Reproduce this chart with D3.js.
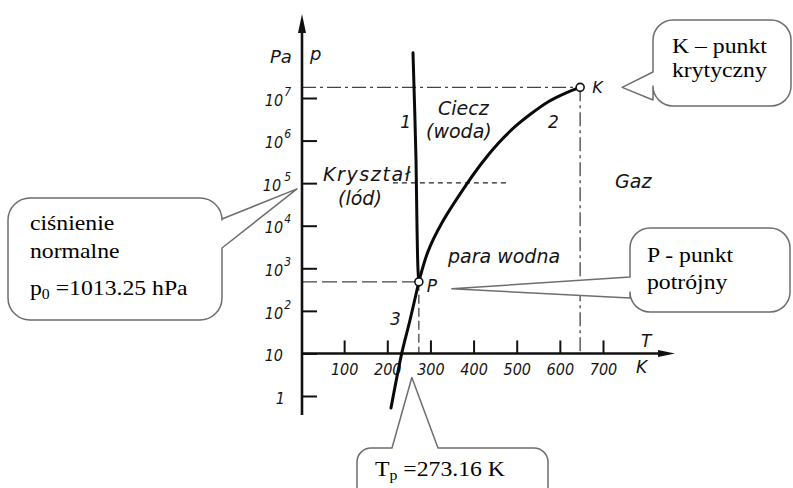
<!DOCTYPE html>
<html>
<head>
<meta charset="utf-8">
<script src="https://cdn.jsdelivr.net/npm/d3@7"></script>
<style>
  html, body { margin: 0; padding: 0; background: #fff; }
  svg { display: block; }
  .tech { font-family: "DejaVu Sans", sans-serif; font-style: oblique; fill: #151515; }
  .tick-label { font-stretch: condensed; }
  .note { font-family: "Liberation Serif", "Times New Roman", serif; fill: #000; }
</style>
</head>
<body>
<svg id="chart" width="793" height="488"></svg>
<script>
// Temperature ticks (K)
const tempTicks = [100, 200, 300, 400, 500, 600, 700];
// Pressure ticks (Pa), one per decade
const pressureTicks = [1, 10, 1e2, 1e3, 1e4, 1e5, 1e6, 1e7];
// Triple point P and critical point K: [T (K), p (Pa)]
const triplePoint = [273.16, 480];
const criticalPoint = [647, 1.78e7];
// Normal pressure p0 = 1013.25 hPa and the temperature span of its marker line
const normalPressure = 101325;
const normalLineT = [213, 477];
// Curve 1: melting (ice / water)
const meltingCurve = [[273.16, 480], [271.2, 912], [268.9, 9300], [266.6, 3.5e5], [259.6, 1.15e8]];
// Curve 2: vaporisation (water / vapour), ends at the critical point
const vaporCurve = [[273.16, 480], [294.5, 2500], [326.1, 11400], [380.1, 82600],
  [418.8, 2.93e5], [457.3, 8.63e5], [496.0, 2.12e6], [534.7, 4.38e6], [573.2, 8.19e6],
  [611.9, 1.29e7], [647, 1.78e7]];
// Curve 3: sublimation (ice / vapour)
const sublimationCurve = [[273.16, 480], [252.7, 61], [234.1, 10.7], [208.6, 0.52]];

const svg = d3.select("#chart");
svg.append("rect").attr("width", 793).attr("height", 488).attr("fill", "#fff");

const x = d3.scaleLinear().domain([0, 700]).range([301, 603]);
const y = d3.scaleLog().domain([1, 1e7]).range([396, 98]);

const X0 = x(0) + 1;          // vertical axis position
const Y0 = y(10);             // horizontal axis position

// ---------- helper lines (dashed) ----------
const guides = svg.append("g").attr("fill", "none");
const [tp, pp] = triplePoint;
const [tk, pk] = criticalPoint;
guides.append("line")
  .attr("x1", X0).attr("x2", x(tk)).attr("y1", y(pk)).attr("y2", y(pk))
  .attr("stroke", "#444").attr("stroke-width", 1.3).attr("stroke-dasharray", "14,4,3,4");
guides.append("line")
  .attr("x1", x(tk)).attr("x2", x(tk)).attr("y1", y(pk)).attr("y2", Y0)
  .attr("stroke", "#444").attr("stroke-width", 1.3).attr("stroke-dasharray", "14,4,3,4");
guides.append("line")
  .attr("x1", X0).attr("x2", x(tp)).attr("y1", y(pp)).attr("y2", y(pp))
  .attr("stroke", "#444").attr("stroke-width", 1.4).attr("stroke-dasharray", "15,5");
guides.append("line")
  .attr("x1", x(tp)).attr("x2", x(tp)).attr("y1", y(pp)).attr("y2", Y0)
  .attr("stroke", "#444").attr("stroke-width", 1.3).attr("stroke-dasharray", "9,4");
guides.append("line")
  .attr("x1", x(normalLineT[0])).attr("x2", x(normalLineT[1]))
  .attr("y1", y(normalPressure)).attr("y2", y(normalPressure))
  .attr("stroke", "#222").attr("stroke-width", 1.1).attr("stroke-dasharray", "5,4");

// ---------- axes ----------
const yAxis = d3.axisLeft(y).tickValues(pressureTicks).tickSizeInner(-15).tickSizeOuter(0).tickPadding(19)
  .tickFormat(() => "");
const gy = svg.append("g").attr("transform", `translate(${X0},0)`).call(yAxis);
gy.select(".domain").remove();
gy.selectAll(".tick line").attr("stroke", "#111").attr("stroke-width", 2);
gy.selectAll(".tick text").each(function (d) {
  const e = Math.round(Math.log10(d));
  const t = d3.select(this).attr("class", "tech tick-label").attr("font-size", 16).attr("dy", "0.45em")
    .attr("font-family", null);
  if (e === 0) { t.attr("x", -17).text("1"); }
  else if (e === 1) { t.attr("x", -19).text("10"); }
  else {
    t.attr("x", -11);
    t.append("tspan").text("10");
    t.append("tspan").attr("font-size", 12).attr("dy", -10).attr("dx", e === 5 ? 3 : 1).text(e);
  }
});

const xAxis = d3.axisBottom(x).tickValues(tempTicks).tickSizeInner(-13).tickSizeOuter(0).tickPadding(10.5);
const gx = svg.append("g").attr("transform", `translate(0,${Y0})`).call(xAxis);
gx.select(".domain").remove();
gx.selectAll(".tick line").attr("stroke", "#111").attr("stroke-width", 2);
gx.selectAll(".tick text").attr("class", "tech tick-label").attr("font-size", 16).attr("font-family", null);

// axis lines with arrow heads
svg.append("line").attr("x1", X0).attr("x2", X0).attr("y1", 415).attr("y2", 28)
  .attr("stroke", "#111").attr("stroke-width", 2.6);
svg.append("path").attr("d", `M${X0},14 L${X0 - 4},33 L${X0 + 4},33 Z`).attr("fill", "#111");
svg.append("line").attr("x1", X0).attr("x2", 664).attr("y1", Y0).attr("y2", Y0)
  .attr("stroke", "#111").attr("stroke-width", 2.6);
svg.append("path").attr("d", `M675,${Y0} L658,${Y0 - 3.5} L658,${Y0 + 3.5} Z`).attr("fill", "#111");

// ---------- phase boundaries ----------
const line = d3.line().x(d => x(d[0])).y(d => y(d[1])).curve(d3.curveCatmullRom.alpha(0.5));
const curves = svg.append("g").attr("fill", "none").attr("stroke", "#0a0a0a")
  .attr("stroke-linecap", "round");
curves.append("path").datum(meltingCurve).attr("d", line).attr("stroke-width", 3);
curves.append("path").datum(vaporCurve).attr("d", line).attr("stroke-width", 3);
curves.append("path").datum(sublimationCurve).attr("d", line).attr("stroke-width", 3);

// triple and critical points
svg.selectAll("circle.pt").data([triplePoint, criticalPoint]).join("circle")
  .attr("class", "pt").attr("cx", d => x(d[0])).attr("cy", d => y(d[1])).attr("r", 4)
  .attr("fill", "#fff").attr("stroke", "#111").attr("stroke-width", 1.6);

// ---------- labels in the diagram ----------
const tech = (txt, px, py, size) => svg.append("text").attr("class", "tech")
  .attr("x", px).attr("y", py).attr("font-size", size).text(txt);
tech("Pa", 270, 63, 18);
tech("p", 310, 60, 18);
tech("T", 641, 347, 17);
tech("K", 636, 373, 17);
tech("1", x(230), y(2e6), 17);
tech("Ciecz", x(317.6), y(4e6), 19);
tech("(woda)", x(289.8), y(1.15e6), 19);
tech("2", x(572.6), y(2e6), 17);
tech("K", x(tk) + 12, y(pk) + 6, 16);
tech("Kryształ", x(51), y(1.12e5), 19).attr("letter-spacing", 1.6);
tech("(lód)", x(85.8), y(3.1e4), 19);
tech("Gaz", x(727.9), y(7.8e4), 19);
tech("para wodna", x(340.7), y(1320), 19);
tech("P", x(tp) + 8, y(pp) + 10, 17);
tech("3", x(206.3), y(47), 17);

// ---------- callout bubbles ----------
function bubblePath(b) {
  const { x0, y0, x1, y1, r, side, a, c, tx, ty } = b;
  const p = d3.path();
  p.moveTo(x0 + r, y0);
  if (side === "top") { p.lineTo(a, y0); p.lineTo(tx, ty); p.lineTo(c, y0); }
  p.lineTo(x1 - r, y0); p.arcTo(x1, y0, x1, y0 + r, r);
  if (side === "right") { p.lineTo(x1, a); p.lineTo(tx, ty); p.lineTo(x1, c); }
  p.lineTo(x1, y1 - r); p.arcTo(x1, y1, x1 - r, y1, r);
  p.lineTo(x0 + r, y1); p.arcTo(x0, y1, x0, y1 - r, r);
  if (side === "left") { p.lineTo(x0, c); p.lineTo(tx, ty); p.lineTo(x0, a); }
  p.lineTo(x0, y0 + r); p.arcTo(x0, y0, x0 + r, y0, r);
  p.closePath();
  return p.toString();
}
const bubbles = [
  { x0: 653, y0: 20, x1: 791, y1: 106, r: 20, side: "left", a: 72, c: 100, tx: x(tk) + 42, ty: y(pk) },
  { x0: 8, y0: 198, x1: 222, y1: 320, r: 22, side: "right", a: 219, c: 248, tx: X0 - 5, ty: y(normalPressure) + 6 },
  { x0: 630, y0: 228, x1: 790, y1: 312, r: 20, side: "left", a: 277, c: 298, tx: x(tp) + 33, ty: y(pp) + 7 },
  { x0: 357, y0: 448, x1: 548, y1: 540, r: 14, side: "top", a: 392, c: 438, tx: x(tp) - 7, ty: Y0 + 24 }
];
svg.append("g").selectAll("path").data(bubbles).join("path")
  .attr("d", bubblePath).attr("fill", "#fff").attr("stroke", "#6e6e6e").attr("stroke-width", 1.5)
  .attr("stroke-linejoin", "round");

const note = (px, py) => svg.append("text").attr("class", "note").attr("font-size", 21)
  .attr("transform", `translate(${px},${py}) scale(1.13,1)`);
note(672, 53).text("K – punkt");
note(672, 77).text("krytyczny");
note(30, 230).text("ciśnienie");
note(30, 258).text("normalne");
const p0 = note(30, 295);
p0.append("tspan").text("p");
p0.append("tspan").attr("font-size", 14).attr("dy", 4).text("0");
p0.append("tspan").attr("dy", -4).text(" =1013.25 hPa");
note(647, 262).text("P - punkt");
note(647, 289).text("potrójny");
const tpl = note(375, 476);
tpl.append("tspan").text("T");
tpl.append("tspan").attr("font-size", 14).attr("dy", 4).text("p");
tpl.append("tspan").attr("dy", -4).text(" =273.16 K");
</script>
</body>
</html>
